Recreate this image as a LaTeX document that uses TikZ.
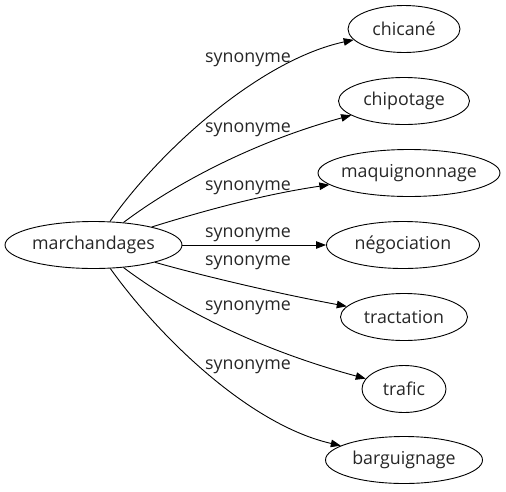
\documentclass[tikz,border=0pt]{standalone}
\usepackage{fontspec}
\setmainfont{Open Sans}
\usetikzlibrary{shapes.geometric,arrows.meta}
\begin{document}
\begin{tikzpicture}[x=1pt,y=-1pt,
  every node/.style={font=\fontsize{17.8pt}{21pt}\selectfont, text=black!85},
  ell/.style={draw, ellipse, inner sep=0pt, minimum height=47pt, line width=0.9pt},
  edge/.style={draw, line width=0.9pt, -{Triangle[length=10pt,width=7.5pt]}},
  lab/.style={inner sep=0pt}]
\useasboundingbox (0,0) rectangle (506,491);
\node[ell, minimum width=177pt, label={center:marchandages}] (m) at (93.5,245) {};
\node[ell, minimum width=112pt, label={center:chicané}] (c) at (404,29) {};
\node[ell, minimum width=131pt, label={center:chipotage}] (cp) at (404,101) {};
\node[ell, minimum width=182pt, label={center:maquignonnage}] (mq) at (409,173) {};
\node[ell, minimum width=153pt, label={center:négociation}] (n) at (403,245) {};
\node[ell, minimum width=127pt, label={center:tractation}] (t) at (404,317) {};
\node[ell, minimum width=84pt, label={center:trafic}] (tf) at (404,389) {};
\node[ell, minimum width=157pt, label={center:barguignage}] (b) at (404,460) {};

\path[edge] (m) .. controls (160,150) and (260,60) .. (c);
\path[edge] (m) .. controls (180,180) and (260,140) .. (cp);
\path[edge] (m) .. controls (200,212) and (260,195) .. (mq);
\path[edge] (m) -- (n);
\path[edge] (m) .. controls (200,275) and (270,292) .. (t);
\path[edge] (m) .. controls (180,310) and (260,350) .. (tf);
\path[edge] (m) .. controls (160,338) and (250,425) .. (b);

\node[lab] (l1) at (248,60) {synonyme};
\node[lab] (l2) at (248,130) {synonyme};
\node[lab] (l3) at (248,188) {synonyme};
\node[lab] (l4) at (248,235) {synonyme};
\node[lab] (l5) at (248,263) {synonyme};
\node[lab] (l6) at (248,308) {synonyme};
\node[lab] (l7) at (248,367) {synonyme};
\end{tikzpicture}
\end{document}
